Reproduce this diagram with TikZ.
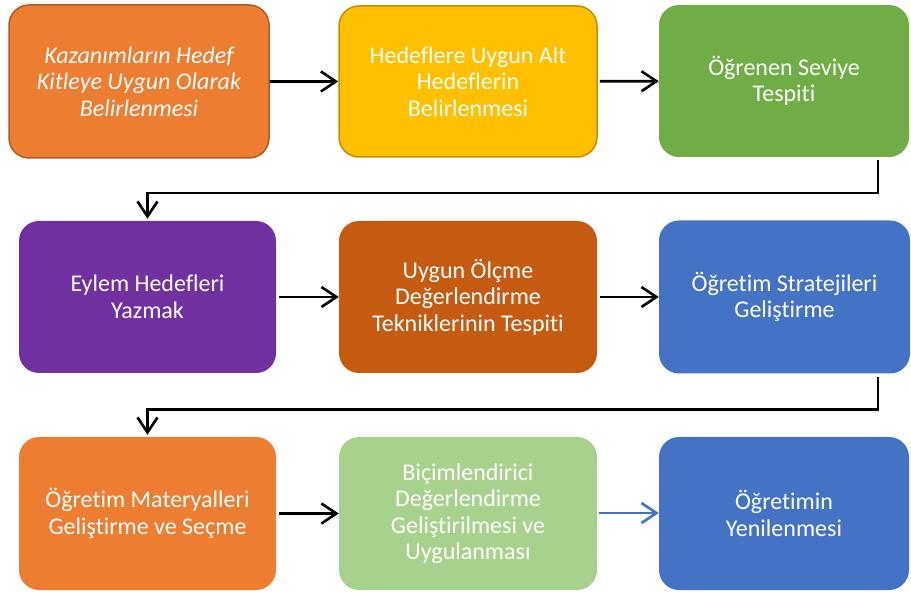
\documentclass[tikz,border=0pt]{standalone}
\usepackage{fontspec}
\setmainfont{Carlito}[Ligatures=NoCommon]
\usetikzlibrary{arrows.meta}

\definecolor{stepOrange}{HTML}{ED7D31}
\definecolor{stepOrangeLine}{HTML}{AE5A21}
\definecolor{stepGold}{HTML}{FFC000}
\definecolor{stepGoldLine}{HTML}{BF9000}
\definecolor{stepGreen}{HTML}{70AD47}
\definecolor{stepPurple}{HTML}{7030A0}
\definecolor{stepBrown}{HTML}{C55A11}
\definecolor{stepBlue}{HTML}{4472C4}
\definecolor{stepLight}{HTML}{A9D18E}

\tikzset{
	stepbox/.style={rounded corners=20pt, text=white, align=center, inner sep=0pt,
		font=\fontsize{24}{26.5}\selectfont},
	flow/.style={line width=2.6pt, -{Straight Barb[length=15pt,width=20pt,line width=2.6pt]}},
}

\begin{document}
\begin{tikzpicture}[x=1pt,y=1pt]
		
		\useasboundingbox (0,0) rectangle (911,-593);
		
		% first row
		\node[stepbox, fill=stepOrange, draw=stepOrangeLine, line width=1.5pt, minimum width=260pt, minimum height=153pt] (kazanim) at (139,-81.5) {\itshape Kazanımların Hedef\\\itshape Kitleye Uygun Olarak\\\itshape Belirlenmesi};
		\node[stepbox, fill=stepGold, draw=stepGoldLine, line width=1.5pt, minimum width=258pt, minimum height=151pt] (althedef) at (468,-81.5) {Hedeflere Uygun Alt\\Hedeflerin\\Belirlenmesi};
		\node[stepbox, fill=stepGreen, minimum width=250pt, minimum height=152pt] (seviye) at (784,-81) {Öğrenen Seviye\\Tespiti};
		
		% second row
		\node[stepbox, fill=stepPurple, minimum width=257pt, minimum height=152pt] (eylem) at (147.5,-297) {Eylem Hedefleri\\Yazmak};
		\node[stepbox, fill=stepBrown, minimum width=258pt, minimum height=152pt] (olcme) at (468,-297) {Uygun Ölçme\\Değerlendirme\\Tekniklerinin Tespiti};
		\node[stepbox, fill=stepBlue, minimum width=251pt, minimum height=153pt] (strateji) at (784.5,-297) {Öğretim Stratejileri\\Geliştirme};
		
		% third row
		\node[stepbox, fill=stepOrange, minimum width=257pt, minimum height=153pt] (materyal) at (147.5,-513.5) {Öğretim Materyalleri\\Geliştirme ve Seçme};
		\node[stepbox, fill=stepLight, minimum width=258pt, minimum height=153pt] (bicim) at (468,-513.5) {Biçimlendirici\\Değerlendirme\\Geliştirilmesi ve\\Uygulanması};
		\node[stepbox, fill=stepBlue, minimum width=250pt, minimum height=153pt] (yenile) at (784,-513.5) {Öğretimin\\Yenilenmesi};
		
		% row arrows
		\draw[flow] (kazanim) -- (althedef);
		\draw[flow, shorten <=2pt] (althedef) -- (seviye);
		\draw[flow, shorten <=3pt] (eylem) -- (olcme);
		\draw[flow, shorten <=3pt] (olcme) -- (strateji);
		\draw[flow, shorten <=3pt] (materyal) -- (bicim);
		\draw[flow, stepBlue, line width=2pt] ([xshift=2pt,yshift=0.5pt]bicim.east) -- ([yshift=0.5pt]yenile.west);
		
		% turns to next row
		\coordinate (turn) at (878,0);
		\draw[flow, shorten >=2pt] ([yshift=-3pt]seviye.south -| turn) -- ++(0,-33) -| (eylem.north);
		\draw[flow, shorten >=2pt] ([yshift=-3pt]strateji.south -| turn) -- ++(0,-33) -| (materyal.north);
		
	\end{tikzpicture}
\end{document}
